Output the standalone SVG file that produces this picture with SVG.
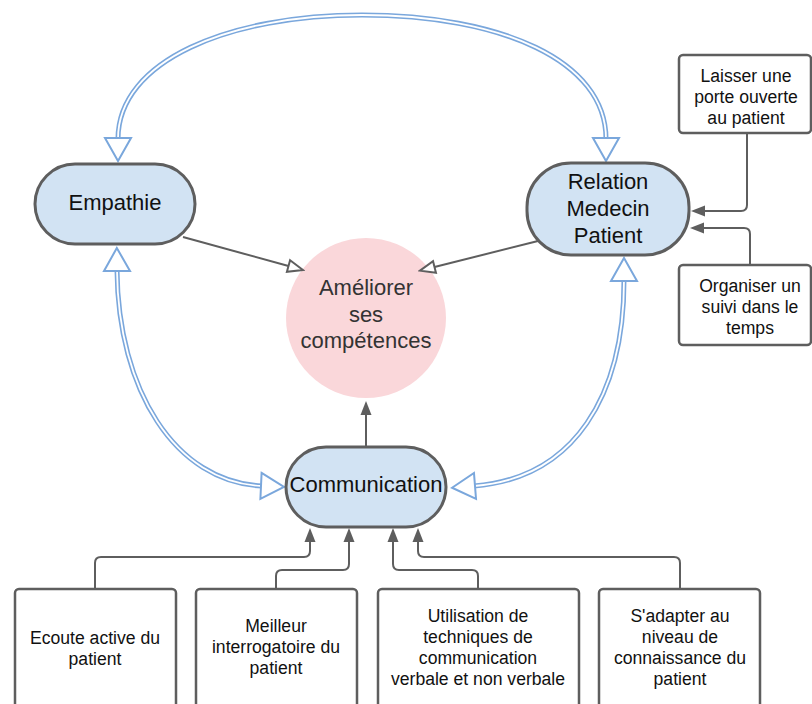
<svg xmlns="http://www.w3.org/2000/svg" width="812" height="704" viewBox="0 0 812 704">
  <style>
    .pill { fill: #d2e3f3; stroke: #5e5e5e; stroke-width: 3; }
    .box { fill: #ffffff; stroke: #5e5e5e; stroke-width: 2.5; }
    .goal { fill: #fad7da; }
    .big { font-family: "Liberation Sans", Arial, sans-serif; font-size: 22px; fill: #111; text-anchor: middle; }
    .goaltxt { fill: #333; }
    .small { font-family: "Liberation Sans", Arial, sans-serif; font-size: 17.6px; fill: #111; text-anchor: middle; }
    .link { fill: none; stroke: #5e5e5e; stroke-width: 2; }
    .solid { marker-end: url(#arrowSolid); }
    .hollow { marker-end: url(#arrowHollow); }
    .dblOuter { fill: none; stroke: #7aa7dc; stroke-width: 5; }
    .dblInner { fill: none; stroke: #ffffff; stroke-width: 1.8; }
    .dblTips { fill: none; stroke: none; marker-start: url(#arrowBlue); marker-end: url(#arrowBlue); }
  </style>
  <defs>
    <marker id="arrowSolid" markerUnits="userSpaceOnUse" viewBox="0 -7 15 14" refX="1" refY="0" markerWidth="15" markerHeight="14" orient="auto">
      <polygon points="0,-5.5 14,0 0,5.5" fill="#5e5e5e"/>
    </marker>
    <marker id="arrowHollow" markerUnits="userSpaceOnUse" viewBox="-2 -9 19 18" refX="0" refY="0" markerWidth="19" markerHeight="18" orient="auto">
      <polygon points="0,-6 15,0 0,6" fill="#ffffff" stroke="#5e5e5e" stroke-width="2"/>
    </marker>
    <marker id="arrowBlue" markerUnits="userSpaceOnUse" viewBox="-2 -16 27 32" refX="1" refY="0" markerWidth="27" markerHeight="32" orient="auto-start-reverse">
      <polygon points="0,-13 23,0 0,13" fill="#ffffff" stroke="#7aa7dc" stroke-width="2"/>
    </marker>
  </defs>

  <!-- goal node sits under the links so their arrowheads stay visible on its rim -->
  <g id="ameliorer">
    <circle class="goal" cx="366" cy="318" r="80"/>
    <text class="big goaltxt" x="366" y="295">Améliorer</text>
    <text class="big goaltxt" x="366" y="322">ses</text>
    <text class="big goaltxt" x="366" y="348">compétences</text>
  </g>

  <!-- connectors -->
  <g id="connectors">
    <!-- double-line links between the three blue nodes -->
    <path class="dblOuter" d="M118,139 C118,60 230,15 362,15 C500,15 606,60 606,139"/>
    <path class="dblInner" d="M118,139 C118,60 230,15 362,15 C500,15 606,60 606,139"/>
    <path class="dblTips" d="M118,139 C118,60 230,15 362,15 C500,15 606,60 606,139"/>

    <path class="dblOuter" d="M117,270 C118,390 175,482 262,486"/>
    <path class="dblInner" d="M117,270 C118,390 175,482 262,486"/>
    <path class="dblTips" d="M117,270 C118,390 175,482 262,486"/>

    <path class="dblOuter" d="M624,280 C624,395 575,478 474,486"/>
    <path class="dblInner" d="M624,280 C624,395 575,478 474,486"/>
    <path class="dblTips" d="M624,280 C624,395 575,478 474,486"/>

    <!-- links into the goal -->
    <path class="link hollow" d="M183,237 L288.5,266"/>
    <path class="link hollow" d="M538,241 L434.5,267"/>
    <path class="link solid" d="M366,447 V414"/>

    <!-- side boxes into Relation Medecin Patient -->
    <path class="link solid" d="M747,133 V205 Q747,211 741,211 H704"/>
    <path class="link solid" d="M750,265 V234 Q750,228 744,228 H703"/>

    <!-- bottom boxes into Communication -->
    <path class="link solid" d="M95,589 V563 Q95,557 101,557 H304 Q310,557 310,551 V541"/>
    <path class="link solid" d="M276,589 V576 Q276,570 282,570 H343 Q349,570 349,564 V541"/>
    <path class="link solid" d="M478,589 V576 Q478,570 472,570 H399 Q393,570 393,564 V541"/>
    <path class="link solid" d="M680,589 V563 Q680,557 674,557 H424 Q418,557 418,551 V541"/>
  </g>

  <g id="empathie">
    <rect class="pill" x="35" y="164" width="160" height="80" rx="40"/>
    <text class="big" x="115" y="210">Empathie</text>
  </g>

  <g id="relation">
    <rect class="pill" x="527" y="163" width="162" height="92" rx="44"/>
    <text class="big" x="608" y="189">Relation</text>
    <text class="big" x="608" y="216">Medecin</text>
    <text class="big" x="608" y="243">Patient</text>
  </g>

  <g id="communication">
    <rect class="pill" x="286" y="447" width="160" height="80" rx="40"/>
    <text class="big" x="366" y="492">Communication</text>
  </g>

  <g id="laisser">
    <rect class="box" x="679" y="55" width="132" height="78" rx="4"/>
    <text class="small" x="746" y="82">Laisser une</text>
    <text class="small" x="746" y="103">porte ouverte</text>
    <text class="small" x="746" y="124">au patient</text>
  </g>

  <g id="organiser">
    <rect class="box" x="679" y="265" width="132" height="80" rx="4"/>
    <text class="small" x="750" y="292">Organiser un</text>
    <text class="small" x="750" y="313">suivi dans le</text>
    <text class="small" x="750" y="334">temps</text>
  </g>

  <g id="ecoute">
    <rect class="box" x="15" y="589" width="161" height="130" rx="4"/>
    <text class="small" x="95" y="644">Ecoute active du</text>
    <text class="small" x="95" y="665">patient</text>
  </g>

  <g id="interrogatoire">
    <rect class="box" x="196" y="589" width="161" height="130" rx="4"/>
    <text class="small" x="276" y="632">Meilleur</text>
    <text class="small" x="276" y="653">interrogatoire du</text>
    <text class="small" x="276" y="674">patient</text>
  </g>

  <g id="techniques">
    <rect class="box" x="378" y="589" width="201" height="130" rx="4"/>
    <text class="small" x="478" y="622">Utilisation de</text>
    <text class="small" x="478" y="643">techniques de</text>
    <text class="small" x="478" y="664">communication</text>
    <text class="small" x="478" y="685">verbale et non verbale</text>
  </g>

  <g id="adapter">
    <rect class="box" x="599" y="589" width="161" height="130" rx="4"/>
    <text class="small" x="680" y="622">S'adapter au</text>
    <text class="small" x="680" y="643">niveau de</text>
    <text class="small" x="680" y="664">connaissance du</text>
    <text class="small" x="680" y="685">patient</text>
  </g>
</svg>
